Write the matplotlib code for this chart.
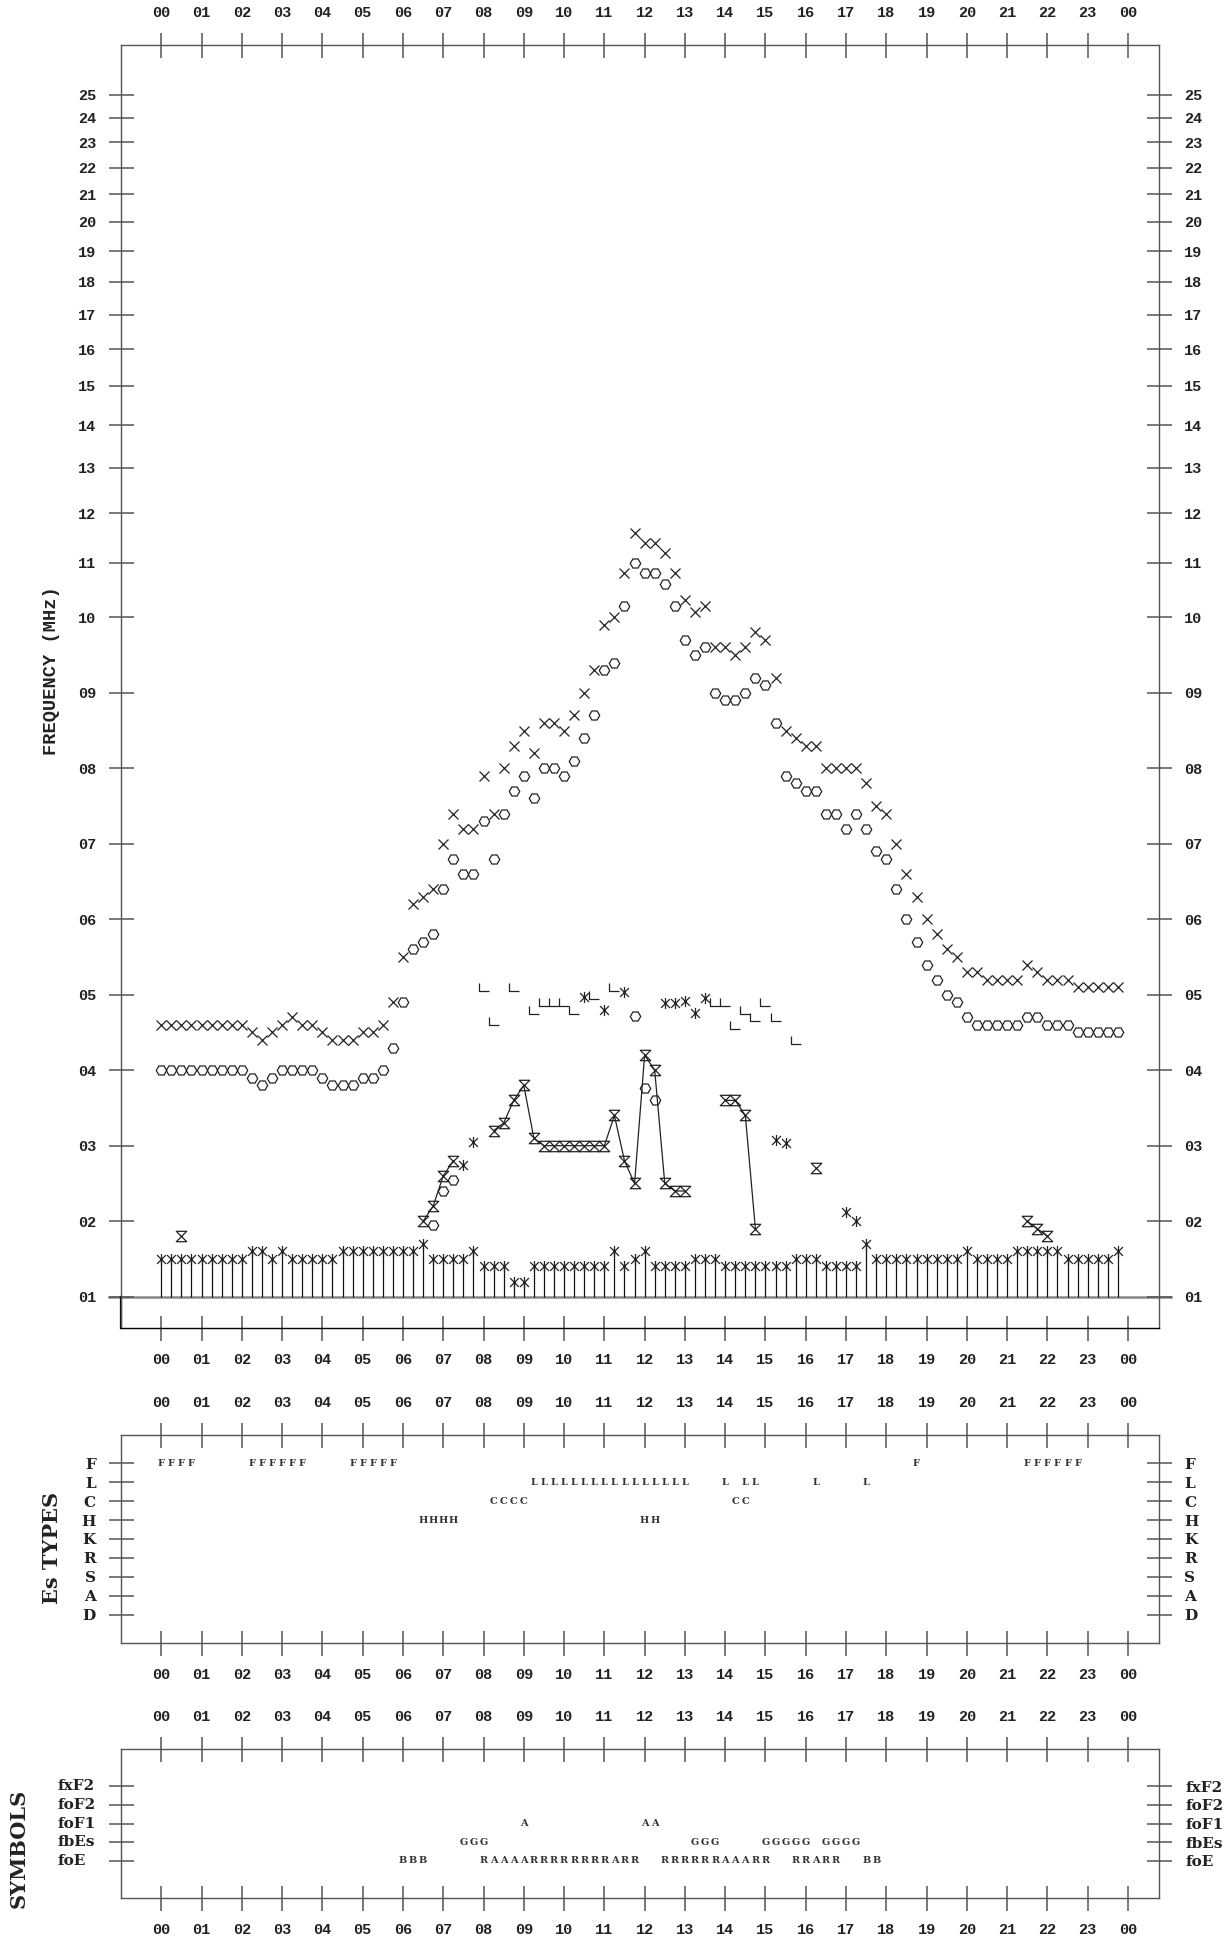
import numpy as np
import matplotlib
matplotlib.use("Agg")
import matplotlib.pyplot as plt
from matplotlib.path import Path
from matplotlib.ticker import NullLocator

plt.rcParams['font.family'] = ['Liberation Mono', 'DejaVu Sans Mono']
plt.rcParams['font.weight'] = 'bold'

# 15 minute slots, 00:00 .. 23:45
hours = np.arange(96) * 0.25
hour_labels = ['%02d' % (h % 24) for h in range(25)]
freq_ticks = list(range(1, 26))
freq_labels = ['%02d' % f for f in freq_ticks]

fxF2 = [4.6, 4.6, 4.6, 4.6, 4.6, 4.6, 4.6, 4.6, 4.6, 4.5, 4.4, 4.5,
        4.6, 4.7, 4.6, 4.6, 4.5, 4.4, 4.4, 4.4, 4.5, 4.5, 4.6, 4.9,
        5.5, 6.2, 6.3, 6.4, 7.0, 7.4, 7.2, 7.2, 7.9, 7.4, 8.0, 8.3,
        8.5, 8.2, 8.6, 8.6, 8.5, 8.7, 9.0, 9.3, 9.9, 10.0, 10.8, 11.6,
        11.4, 11.4, 11.2, 10.8, 10.3, 10.1, 10.2, 9.6, 9.6, 9.5, 9.6, 9.8,
        9.7, 9.2, 8.5, 8.4, 8.3, 8.3, 8.0, 8.0, 8.0, 8.0, 7.8, 7.5,
        7.4, 7.0, 6.6, 6.3, 6.0, 5.8, 5.6, 5.5, 5.3, 5.3, 5.2, 5.2,
        5.2, 5.2, 5.4, 5.3, 5.2, 5.2, 5.2, 5.1, 5.1, 5.1, 5.1, 5.1]

foF2 = [4.0, 4.0, 4.0, 4.0, 4.0, 4.0, 4.0, 4.0, 4.0, 3.9, 3.8, 3.9,
        4.0, 4.0, 4.0, 4.0, 3.9, 3.8, 3.8, 3.8, 3.9, 3.9, 4.0, 4.3,
        4.9, 5.6, 5.7, 5.8, 6.4, 6.8, 6.6, 6.6, 7.3, 6.8, 7.4, 7.7,
        7.9, 7.6, 8.0, 8.0, 7.9, 8.1, 8.4, 8.7, 9.3, 9.4, 10.2, 11.0,
        10.8, 10.8, 10.6, 10.2, 9.7, 9.5, 9.6, 9.0, 8.9, 8.9, 9.0, 9.2,
        9.1, 8.6, 7.9, 7.8, 7.7, 7.7, 7.4, 7.4, 7.2, 7.4, 7.2, 6.9,
        6.8, 6.4, 6.0, 5.7, 5.4, 5.2, 5.0, 4.9, 4.7, 4.6, 4.6, 4.6,
        4.6, 4.6, 4.7, 4.7, 4.6, 4.6, 4.6, 4.5, 4.5, 4.5, 4.5, 4.5]

fmin = [1.5, 1.5, 1.5, 1.5, 1.5, 1.5, 1.5, 1.5, 1.5, 1.6, 1.6, 1.5,
        1.6, 1.5, 1.5, 1.5, 1.5, 1.5, 1.6, 1.6, 1.6, 1.6, 1.6, 1.6,
        1.6, 1.6, 1.7, 1.5, 1.5, 1.5, 1.5, 1.6, 1.4, 1.4, 1.4, 1.2,
        1.2, 1.4, 1.4, 1.4, 1.4, 1.4, 1.4, 1.4, 1.4, 1.6, 1.4, 1.5,
        1.6, 1.4, 1.4, 1.4, 1.4, 1.5, 1.5, 1.5, 1.4, 1.4, 1.4, 1.4,
        1.4, 1.4, 1.4, 1.5, 1.5, 1.5, 1.4, 1.4, 1.4, 1.4, 1.7, 1.5,
        1.5, 1.5, 1.5, 1.5, 1.5, 1.5, 1.5, 1.5, 1.6, 1.5, 1.5, 1.5,
        1.5, 1.6, 1.6, 1.6, 1.6, 1.6, 1.5, 1.5, 1.5, 1.5, 1.5, 1.6]

foEs_hr = [0.5, 6.5, 6.75, 7.0, 7.25, 8.25, 8.5, 8.75, 9.0, 9.25, 9.5, 9.75,
           10.0, 10.25, 10.5, 10.75, 11.0, 11.25, 11.5, 11.75, 12.0, 12.25,
           12.5, 12.75, 13.0, 14.0, 14.25, 14.5, 14.75, 16.25, 21.5, 21.75, 22.0]
foEs_val = [1.8, 2.0, 2.2, 2.6, 2.8, 3.2, 3.3, 3.6, 3.8, 3.1, 3.0, 3.0,
            3.0, 3.0, 3.0, 3.0, 3.0, 3.4, 2.8, 2.5, 4.2, 4.0,
            2.5, 2.4, 2.4, 3.6, 3.6, 3.4, 1.9, 2.7, 2.0, 1.9, 1.8]

foF1_hr = [8.0, 8.25, 8.75, 9.25, 9.5, 9.75, 10.0, 10.25, 10.75, 11.25,
           13.75, 14.0, 14.25, 14.5, 14.75, 15.0, 15.25, 15.75]
foF1_val = [5.1, 4.65, 5.1, 4.8, 4.9, 4.9, 4.9, 4.8, 5.0, 5.1,
            4.9, 4.9, 4.6, 4.8, 4.7, 4.9, 4.7, 4.4]

star_hr = [7.5, 7.75, 10.5, 11.0, 11.5, 12.5, 12.75, 13.0, 13.25, 13.5,
           15.25, 15.5, 17.0, 17.25]
star_val = [2.75, 3.05, 4.97, 4.8, 5.03, 4.89, 4.89, 4.92, 4.76, 4.96,
            3.08, 3.04, 2.12, 2.0]

hexb_hr = [6.75, 7.0, 7.25, 11.75, 12.0, 12.25]
hexb_val = [1.95, 2.4, 2.55, 4.72, 3.76, 3.6]

# Es types: (start hour, letters every 15 min, blank = none)
es_types = ['F', 'L', 'C', 'H', 'K', 'R', 'S', 'A', 'D']
es_F = [(0.0, 'FFFF'), (2.25, 'FFFFFF'), (4.75, 'FFFFF'), (18.75, 'F'), (21.5, 'FFFFFF')]
es_L = [(9.25, 'LLLLLLLLLLLLLLLL'), (14.0, 'L LL'), (16.25, 'L'), (17.5, 'L')]
es_C = [(8.25, 'CCCC'), (14.25, 'CC')]
es_H = [(6.5, 'HHHH'), (12.0, 'HH')]

sym_rows = ['fxF2', 'foF2', 'foF1', 'fbEs', 'foE']
sym_foF1 = [(9.0, 'A'), (12.0, 'AA')]
sym_fbEs = [(7.5, 'GGG'), (13.25, 'GGG'), (15.0, 'GGGGG'), (16.5, 'GGGG')]
sym_foE = [(6.0, 'BBB'), (8.0, 'RAAAARRRRRRRRARR'), (12.5, 'RRRRRRAAARR'),
           (15.75, 'RRARR'), (17.5, 'BB')]

# marker shapes
hourglass = Path([(-1, 1), (1, 1), (-1, -1), (1, -1), (-1, 1)],
                 [Path.MOVETO, Path.LINETO, Path.LINETO, Path.LINETO, Path.CLOSEPOLY])
ell = Path([(-1, 0.8), (-1, -0.8), (1, -0.8)], [Path.MOVETO, Path.LINETO, Path.LINETO])
star = Path([(0, -1), (0, 1), (-0.8, -0.8), (0.8, 0.8), (-0.8, 0.8), (0.8, -0.8)],
            [Path.MOVETO, Path.LINETO, Path.MOVETO, Path.LINETO, Path.MOVETO, Path.LINETO])

ink = '#222222'
fig = plt.figure(figsize=(12.31, 19.41), dpi=100)


def panel(l, t, r, b):
    return fig.add_axes([l / 1231, 1 - b / 1941, (r - l) / 1231, (b - t) / 1941])


ax = panel(121, 45, 1159, 1328)
es = panel(121, 1435, 1159, 1643)
sy = panel(121, 1749, 1159, 1898)

for a in (ax, es, sy):
    a.set_xlim(-1, 24.77)
    a.set_xticks(range(25))
    a.set_xticklabels(hour_labels)
    a.tick_params(direction='inout', length=18, width=1.1, color='#555555',
                  top=True, right=True, labeltop=True, labelright=True,
                  labelsize=11, labelcolor=ink, pad=9)
    for s in a.spines.values():
        s.set_color('#555555')
        s.set_linewidth(1.0)

# frequency axis: linear to 10 MHz, logarithmic above
K = 17.4


def fwd(v):
    v = np.asarray(v, dtype=float)
    return np.where(v <= 10, v, 10 + K * np.log10(np.clip(v, 10, None) / 10))


def inv(u):
    u = np.asarray(u, dtype=float)
    return np.where(u <= 10, u, 10 * 10 ** ((np.clip(u, 10, 60) - 10) / K))


ax.set_yscale('function', functions=(fwd, inv))
ax.set_ylim(0.585, 27.27)
ax.set_yticks(freq_ticks)
ax.set_yticklabels(freq_labels)
ax.yaxis.set_minor_locator(NullLocator())
ax.spines['bottom'].set_color('black')
ax.axhline(1.0, xmin=-0.012, xmax=1.012, color='#888888', lw=1.8, clip_on=False, zorder=1)
ax.plot([-1, -1], [0.585, 1.0], color='black', lw=1.6, clip_on=False)

ax.vlines(hours, 1.0, fmin, colors='#111111', lw=0.9)
ax.plot(hours, fmin, ls='none', marker=star, ms=8, mec=ink, mew=0.9)
ax.plot(hours, fxF2, ls='none', marker='x', ms=7.5, mec=ink, mew=0.9)
ax.plot(hours, foF2, ls='none', marker='H', ms=7.5, mfc='none', mec=ink, mew=0.9)

foEs = np.full(96, np.nan)
foEs[(np.array(foEs_hr) * 4).astype(int)] = foEs_val
ax.plot(hours, foEs, color=ink, lw=0.9, marker=hourglass, ms=7.5, mfc='none', mec=ink, mew=0.9)
ax.plot(foF1_hr, foF1_val, ls='none', marker=ell, ms=7.5, mfc='none', mec=ink, mew=0.9)
ax.plot(star_hr, star_val, ls='none', marker=star, ms=8, mec=ink, mew=0.9)
ax.plot(hexb_hr, hexb_val, ls='none', marker='H', ms=7.5, mfc='none', mec=ink, mew=0.9)

fig.text(52 / 1231, 1 - 671 / 1941, 'FREQUENCY (MHz)', rotation=90,
         ha='center', va='center', fontsize=13.5, color=ink)

# Es types panel
es.set_ylim(-1.5, 9.5)
es.set_yticks(range(8, -1, -1))
es.set_yticklabels(es_types, fontfamily='DejaVu Serif', fontsize=11)
for row, runs in zip(range(8, 4, -1), [es_F, es_L, es_C, es_H]):
    for start, run in runs:
        for i, ch in enumerate(run):
            if ch != ' ':
                es.text(start + 0.25 * i, row, ch, ha='center', va='center',
                        fontsize=7, family='DejaVu Serif', color='#333333')
fig.text(52 / 1231, 1 - 1548 / 1941, 'Es TYPES', rotation=90, ha='center',
         va='center', fontsize=15, family='DejaVu Serif', color=ink)

# symbols panel
sy.set_ylim(-2, 6)
sy.set_yticks(range(4, -1, -1))
sy.set_yticklabels(sym_rows, fontfamily='DejaVu Serif', fontsize=11)
sy.tick_params(axis='y', labelleft=False, pad=10)
for y, name in zip(range(4, -1, -1), sym_rows):
    sy.text(-0.0607, y, name, transform=sy.get_yaxis_transform(), ha='left',
            va='center', fontsize=11, family='DejaVu Serif', color=ink)
for row, runs in zip([2, 1, 0], [sym_foF1, sym_fbEs, sym_foE]):
    for start, run in runs:
        for i, ch in enumerate(run):
            if ch != ' ':
                sy.text(start + 0.25 * i, row, ch, ha='center', va='center',
                        fontsize=7, family='DejaVu Serif', color='#333333')
fig.text(19 / 1231, 1 - 1848 / 1941, 'SYMBOLS', rotation=90, ha='center',
         va='center', fontsize=15, family='DejaVu Serif', color=ink)

fig.savefig('out.png', dpi=100)
